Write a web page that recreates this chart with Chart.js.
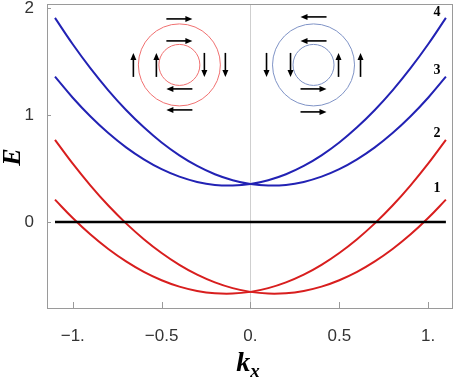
<!DOCTYPE html>
<html>
<head>
<meta charset="utf-8">
<script src="https://cdn.jsdelivr.net/npm/chart.js@4.4.1/dist/chart.umd.min.js"></script>
<style>
  html, body { margin: 0; padding: 0; background: #fff; }
  #wrap { width: 456px; height: 384px; }
</style>
</head>
<body>
<div id="wrap"><canvas id="bands"></canvas></div>
<script>
(function () {
  "use strict";

  // k_x samples
  const kx = [-1.1, -1.0, -0.9, -0.8, -0.7, -0.6, -0.5, -0.4, -0.3, -0.2, -0.1, 0,
              0.1, 0.2, 0.3, 0.4, 0.5, 0.6, 0.7, 0.8, 0.9, 1.0, 1.1];

  // band energies
  const band1 = [0.769, 0.546, 0.341, 0.154, -0.013, -0.161, -0.290, -0.401, -0.493, -0.565, -0.619, -0.654,
                 -0.670, -0.667, -0.645, -0.605, -0.545, -0.467, -0.369, -0.253, -0.118, 0.037, 0.209];
  const band2 = [0.209, 0.037, -0.118, -0.253, -0.369, -0.467, -0.545, -0.605, -0.645, -0.667, -0.670, -0.654,
                 -0.619, -0.565, -0.493, -0.401, -0.290, -0.161, -0.013, 0.154, 0.341, 0.546, 0.769];
  const band3 = [1.910, 1.663, 1.437, 1.232, 1.048, 0.886, 0.744, 0.624, 0.525, 0.447, 0.391, 0.355,
                 0.341, 0.347, 0.375, 0.424, 0.494, 0.586, 0.698, 0.832, 0.987, 1.163, 1.360];
  const band4 = [1.360, 1.163, 0.987, 0.832, 0.698, 0.586, 0.494, 0.424, 0.375, 0.347, 0.341, 0.355,
                 0.391, 0.447, 0.525, 0.624, 0.744, 0.886, 1.048, 1.232, 1.437, 1.663, 1.910];

  const fermiK = [-1.1, 1.1];
  const fermiE = [0, 0];

  const xTicks = [-1, -0.5, 0, 0.5, 1];
  const xTickLabels = ["\u22121.", "\u22120.5", "0.", "0.5", "1."];
  const yTicks = [0, 1, 2];
  const yTickLabels = ["0", "1", "2"];

  const bandLabels = ["1", "2", "3", "4"];
  const bandLabelE = [0.26, 0.77, 1.36, 1.91];

  const RED = "#d81e1e";
  const BLUE = "#2222b4";

  function pts(xs, ys) {
    return xs.map((x, i) => ({ x: x, y: ys[i] }));
  }

  function curve(data, color) {
    return {
      data: data,
      borderColor: color,
      borderWidth: 2,
      pointRadius: 0,
      tension: 0.4,
      fill: false
    };
  }

  function arrow(ctx, x1, y1, x2, y2) {
    const a = Math.atan2(y2 - y1, x2 - x1);
    ctx.beginPath();
    ctx.moveTo(x1, y1);
    ctx.lineTo(x2 - 5 * Math.cos(a), y2 - 5 * Math.sin(a));
    ctx.stroke();
    ctx.beginPath();
    ctx.moveTo(x2, y2);
    ctx.lineTo(x2 - 7 * Math.cos(a) + 3 * Math.sin(a), y2 - 7 * Math.sin(a) - 3 * Math.cos(a));
    ctx.lineTo(x2 - 7 * Math.cos(a) - 3 * Math.sin(a), y2 - 7 * Math.sin(a) + 3 * Math.cos(a));
    ctx.closePath();
    ctx.fill();
  }

  // spin-texture inset: two circles with arrows, dir = +1 (red) or -1 (blue)
  function inset(ctx, cx, cy, color, dir) {
    ctx.save();
    ctx.strokeStyle = color;
    ctx.lineWidth = 1;
    ctx.beginPath(); ctx.arc(cx, cy, 41, 0, 2 * Math.PI); ctx.stroke();
    ctx.beginPath(); ctx.arc(cx, cy, 20.5, 0, 2 * Math.PI); ctx.stroke();
    ctx.strokeStyle = "#000";
    ctx.fillStyle = "#000";
    ctx.lineWidth = 1.6;
    const h = 13 * dir;
    arrow(ctx, cx - h, cy - 46 + (dir < 0 ? -2 : 0), cx + h, cy - 46 + (dir < 0 ? -2 : 0));
    arrow(ctx, cx - h, cy - 24, cx + h, cy - 24);
    arrow(ctx, cx + h, cy + 24, cx - h, cy + 24);
    arrow(ctx, cx + h, cy + 45 + (dir < 0 ? 2 : 0), cx - h, cy + 45 + (dir < 0 ? 2 : 0));
    const v = 12 * dir;
    const ox = dir > 0 ? 46 : 47;
    arrow(ctx, cx - ox, cy + v, cx - ox, cy - v);
    arrow(ctx, cx - 23, cy + v, cx - 23, cy - v);
    arrow(ctx, cx + 25, cy - v, cx + 25, cy + v);
    arrow(ctx, cx + ox, cy - v, cx + ox, cy + v);
    ctx.restore();
  }

  const decor = {
    id: "decor",
    beforeDatasetsDraw(chart) {
      const { ctx, chartArea: a, scales: { x } } = chart;
      ctx.save();
      // k = 0 axis
      ctx.strokeStyle = "#cfcfcf";
      ctx.lineWidth = 1;
      const x0 = Math.round(x.getPixelForValue(0)) + 0.5;
      ctx.beginPath(); ctx.moveTo(x0, a.top); ctx.lineTo(x0, a.bottom); ctx.stroke();
      ctx.restore();
    },
    afterDatasetsDraw(chart) {
      const { ctx, chartArea: a, scales: { x, y } } = chart;
      ctx.save();
      // frame
      ctx.strokeStyle = "#9a9a9a";
      ctx.lineWidth = 1;
      ctx.strokeRect(Math.round(a.left) + 0.5, Math.round(a.top) + 0.5,
                     Math.round(a.right - a.left) - 1, Math.round(a.bottom - a.top));
      // inward ticks
      ctx.beginPath();
      xTicks.forEach(v => {
        const px = Math.round(x.getPixelForValue(v)) + 0.5;
        ctx.moveTo(px, a.bottom); ctx.lineTo(px, a.bottom - 6);
      });
      yTicks.forEach(v => {
        const py = Math.round(y.getPixelForValue(v)) + 0.5;
        ctx.moveTo(a.left, py); ctx.lineTo(a.left + 4, py);
      });
      ctx.stroke();

      // insets
      inset(ctx, x.getPixelForValue(-0.40), y.getPixelForValue(1.47), "#f07070", 1);
      inset(ctx, x.getPixelForValue(0.355), y.getPixelForValue(1.47), "#7f93c6", -1);

      // band numbers
      ctx.fillStyle = "#000";
      ctx.font = "bold 14px 'Liberation Serif', serif";
      ctx.textAlign = "right";
      ctx.textBaseline = "middle";
      bandLabels.forEach((t, i) => {
        ctx.fillText(t, x.getPixelForValue(1.07), y.getPixelForValue(bandLabelE[i]) - 6);
      });

      // axis titles
      ctx.save();
      ctx.translate(13, (a.top + a.bottom) / 2 + 1);
      ctx.rotate(-Math.PI / 2);
      ctx.textAlign = "center";
      ctx.textBaseline = "middle";
      ctx.font = "italic bold 26px 'Liberation Serif', serif";
      ctx.fillText("E", 0, 0);
      ctx.restore();

      const cx = (a.left + a.right) / 2;
      ctx.textAlign = "left";
      ctx.textBaseline = "alphabetic";
      ctx.font = "italic bold 28px 'Liberation Serif', serif";
      const kw = ctx.measureText("k").width;
      ctx.font = "italic bold 19px 'Liberation Serif', serif";
      const xw = ctx.measureText("x").width;
      const sx = cx - (kw + xw) / 2 - 2;
      ctx.font = "italic bold 28px 'Liberation Serif', serif";
      ctx.fillText("k", sx, 371);
      ctx.font = "italic bold 19px 'Liberation Serif', serif";
      ctx.fillText("x", sx + kw, 377);
      ctx.restore();
    }
  };

  new Chart(document.getElementById("bands"), {
    type: "line",
    data: {
      datasets: [
        {
          data: pts(fermiK, fermiE),
          borderColor: "#000",
          borderWidth: 2.6,
          pointRadius: 0,
          fill: false
        },
        curve(pts(kx, band1), RED),
        curve(pts(kx, band2), RED),
        curve(pts(kx, band3), BLUE),
        curve(pts(kx, band4), BLUE)
      ]
    },
    options: {
      responsive: true,
      maintainAspectRatio: false,
      animation: false,
      layout: { padding: { left: 0, right: 3, top: 4, bottom: 0 } },
      plugins: { legend: { display: false }, tooltip: { enabled: false } },
      scales: {
        x: {
          type: "linear",
          min: -1.145,
          max: 1.14,
          grid: { display: false },
          border: { display: false },
          afterFit(s) { s.height = 76; s.paddingLeft = 0; s.paddingRight = 0; },
          afterBuildTicks(s) { s.ticks = xTicks.map(v => ({ value: v })); },
          ticks: {
            padding: 10,
            color: "#333",
            font: { family: "'Liberation Sans', Arial, sans-serif", size: 17 },
            maxRotation: 0,
            callback: v => xTickLabels[xTicks.indexOf(v)]
          }
        },
        y: {
          type: "linear",
          min: -0.805,
          max: 2.04,
          grid: { display: false },
          border: { display: false },
          afterFit(s) { s.width = 47; s.paddingTop = 0; s.paddingBottom = 0; },
          afterBuildTicks(s) { s.ticks = yTicks.map(v => ({ value: v })); },
          ticks: {
            padding: 5,
            color: "#333",
            font: { family: "'Liberation Sans', Arial, sans-serif", size: 17 },
            callback: v => yTickLabels[yTicks.indexOf(v)]
          }
        }
      }
    },
    plugins: [decor]
  });
})();
</script>
</body>
</html>
